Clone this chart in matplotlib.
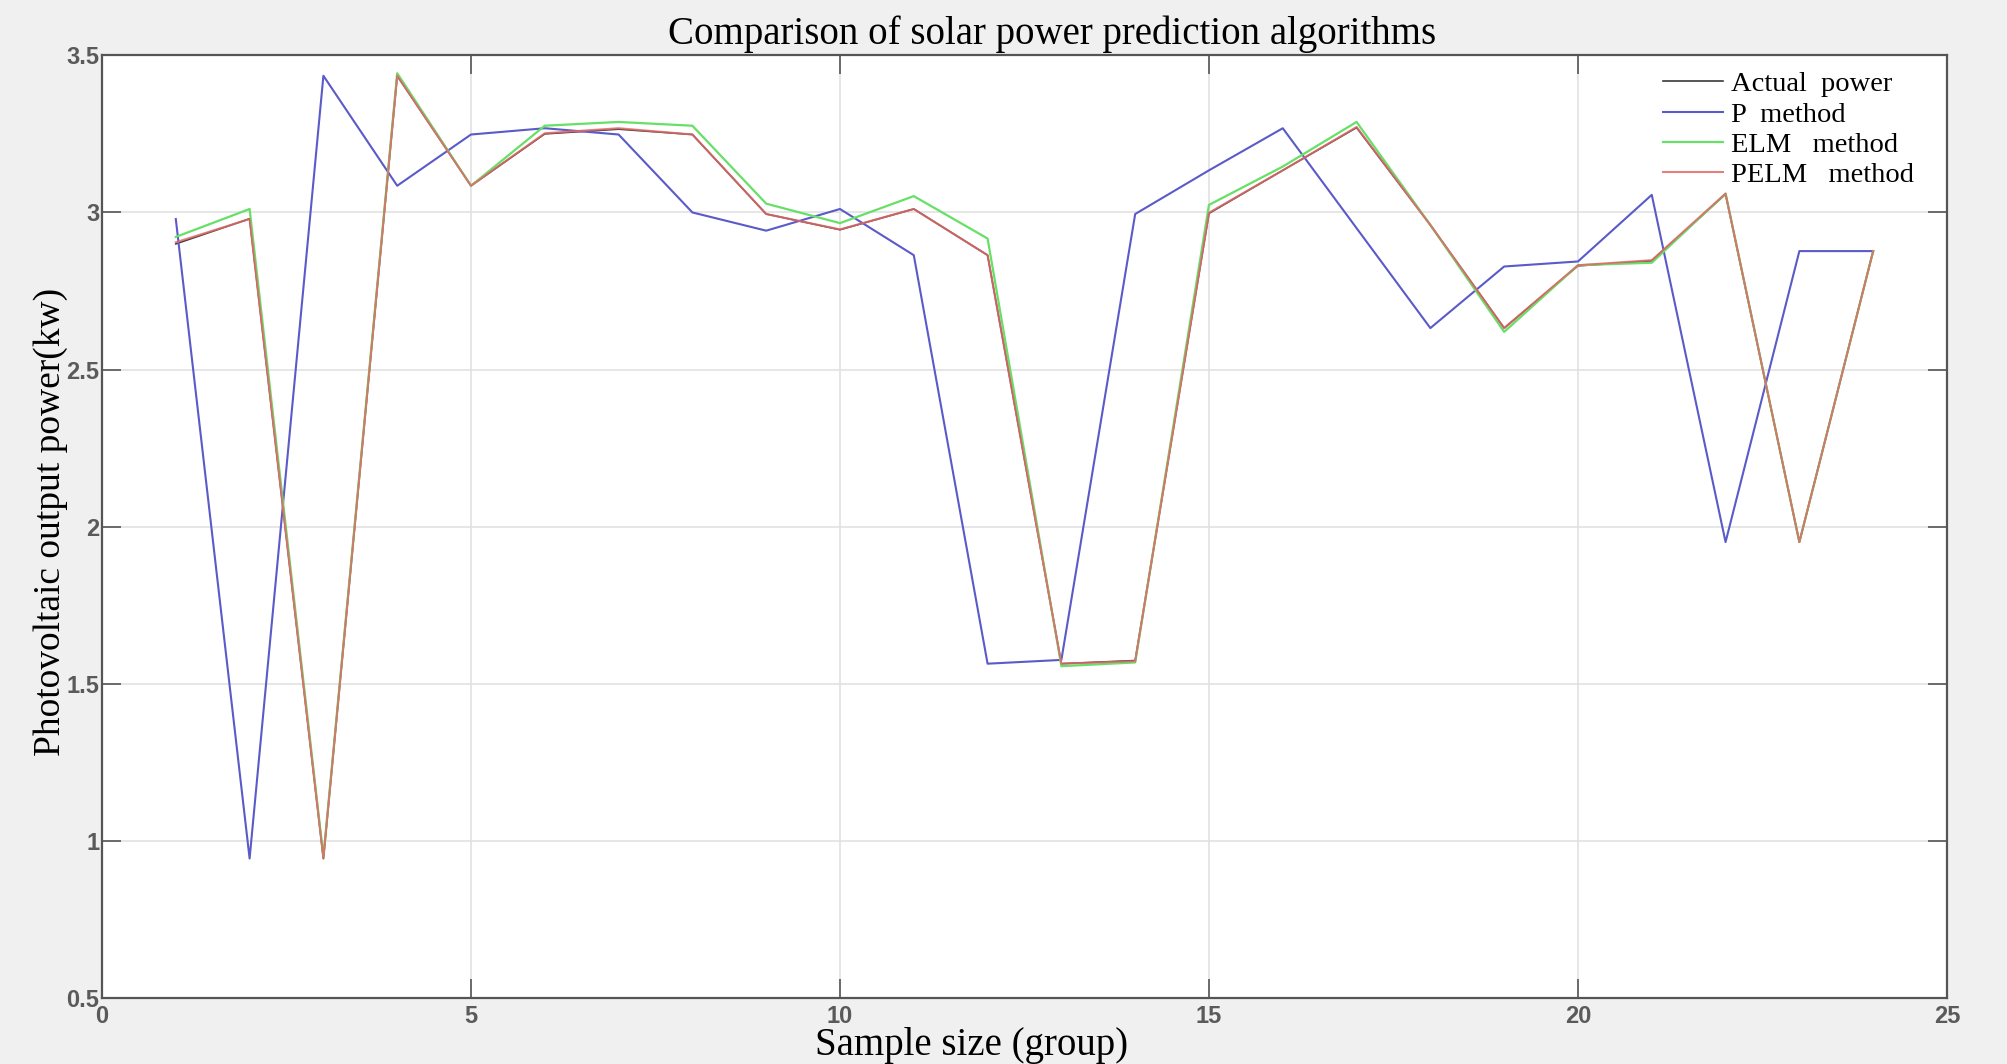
import matplotlib
matplotlib.use("Agg")
import matplotlib.pyplot as plt
import numpy as np

# -----------------------------
# data
# -----------------------------
samples = np.arange(1, 25)

actual_power = [2.90, 2.98, 0.944, 3.435, 3.085, 3.25, 3.265, 3.248, 2.995, 2.945,
                3.011, 2.864, 1.564, 1.574, 2.997, 3.134, 3.27, 2.96, 2.632, 2.83,
                2.846, 3.058, 1.951, 2.877]
p_method = [2.979, 0.944, 3.435, 3.085, 3.248, 3.268, 3.248, 3.0, 2.942, 3.011,
            2.864, 1.564, 1.576, 2.995, 3.134, 3.268, 2.95, 2.632, 2.828, 2.844,
            3.056, 1.951, 2.877, 2.877]
elm_method = [2.922, 3.011, 0.95, 3.443, 3.085, 3.276, 3.288, 3.276, 3.028, 2.966,
              3.052, 2.917, 1.556, 1.568, 3.024, 3.146, 3.288, 2.96, 2.62, 2.832,
              2.84, 3.06, 1.951, 2.877]
pelm_method = [2.905, 2.979, 0.944, 3.435, 3.085, 3.252, 3.268, 3.248, 2.995, 2.946,
               3.011, 2.864, 1.564, 1.572, 2.999, 3.134, 3.272, 2.96, 2.632, 2.832,
               2.848, 3.06, 1.951, 2.877]

labels = ['Actual  power', 'P  method', 'ELM   method', 'PELM   method']
x_ticks = [0, 5, 10, 15, 20, 25]
y_ticks = [0.5, 1, 1.5, 2, 2.5, 3, 3.5]
y_ticklabels = ['0.5', '1', '1.5', '2', '2.5', '3', '3.5']

# -----------------------------
# plotting
# -----------------------------
serif = ['Liberation Serif', 'DejaVu Serif']
tick_font = ['Liberation Sans Narrow', 'Liberation Sans', 'DejaVu Sans']

fig = plt.figure(figsize=(20.08, 10.64), dpi=100, facecolor='#f0f0f0')
ax = fig.add_axes([0.0508, 0.062, 0.9188, 0.886])
ax.set_facecolor('white')

ax.plot(samples, actual_power, color='#3a3a3a', lw=1.2, label=labels[0])
ax.plot(samples, p_method, color='#5a5ac8', lw=1.5, label=labels[1])
ax.plot(samples, elm_method, color='#66e066', lw=1.6, label=labels[2])
ax.plot(samples, pelm_method, color='#e06a6a', lw=1.5, alpha=0.85, label=labels[3])

ax.set_xlim(0, 25)
ax.set_ylim(0.5, 3.5)
ax.set_xticks(x_ticks)
ax.set_yticks(y_ticks)
ax.set_yticklabels(y_ticklabels)
ax.grid(True, color='#e2e2e2', lw=1.2)
ax.set_axisbelow(True)

ax.tick_params(direction='in', length=14, width=1.2, color='#555555',
               top=True, right=True, labelsize=17, labelcolor='#5a5a5a', pad=5)
ax.tick_params(axis='y', pad=2)
for lab in ax.get_xticklabels() + ax.get_yticklabels():
    lab.set_family(tick_font)
    lab.set_fontweight('bold')
for sp in ax.spines.values():
    sp.set_color('#555555')
    sp.set_linewidth(1.6)

ax.set_title('Comparison of solar power prediction algorithms', family=serif,
             fontsize=28, x=0.515, pad=8)
ax.set_xlabel('Sample size (group)', family=serif, fontsize=28)
ax.xaxis.set_label_coords(0.4715, -0.031, transform=ax.transAxes)
ax.xaxis.label.set_va('top')
ax.set_ylabel('Photovoltaic output power(kw)', family=serif, fontsize=27, labelpad=-1)
ax.yaxis.label.set_y(0.505)

leg = ax.legend(loc='upper right', bbox_to_anchor=(0.993, 1.004), frameon=False,
                prop={'family': serif, 'size': 20.5}, labelspacing=0.15,
                handlelength=2.1, handletextpad=0.3, borderpad=0.2)

fig.savefig('out.png', dpi=100, facecolor=fig.get_facecolor())
